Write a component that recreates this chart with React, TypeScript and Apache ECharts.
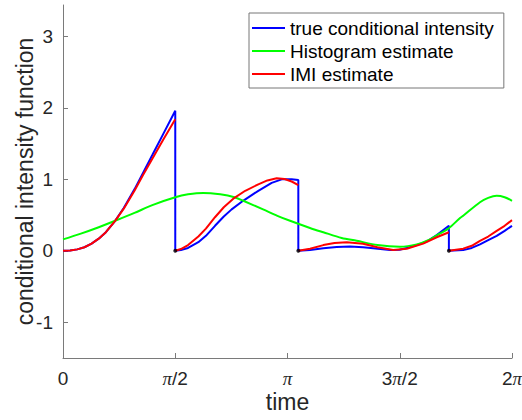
import React, { useEffect, useRef } from "react";
import * as echarts from "echarts";

const PI = Math.PI;

// event times (resets of the true intensity)
const eventTimes = [1.571, 3.293, 5.4];

// true conditional intensity [time, value]; a repeated time marks the drop to zero
const trueIntensity: [number, number][] = [
  [0, 0], [0.1, 0.005], [0.2, 0.02], [0.3, 0.05], [0.4, 0.1], [0.5, 0.17], [0.6, 0.26],
  [0.73, 0.42], [0.85, 0.6], [1.0, 0.86], [1.12, 1.09], [1.25, 1.34], [1.4, 1.63], [1.571, 1.96],
  [1.571, 0], [1.65, 0.01], [1.75, 0.04], [1.894, 0.12], [2.0, 0.21], [2.127, 0.35], [2.25, 0.48],
  [2.36, 0.58], [2.52, 0.7], [2.733, 0.84], [2.92, 0.95], [3.06, 1.0], [3.2, 1.0], [3.293, 0.99],
  [3.293, 0], [3.457, 0.01], [3.643, 0.035], [3.83, 0.055], [4.016, 0.06], [4.2, 0.05], [4.34, 0.035],
  [4.576, 0.01], [4.71, 0.015], [4.81, 0.04], [4.95, 0.08], [5.09, 0.13], [5.23, 0.22], [5.4, 0.35],
  [5.4, 0], [5.6, 0.01], [5.72, 0.04], [5.835, 0.09], [5.95, 0.15], [6.069, 0.21], [6.18, 0.28], [6.283, 0.35],
];

// histogram estimate
const histogramEstimate: [number, number][] = [
  [0, 0.16], [0.25, 0.24], [0.5, 0.33], [0.73, 0.42], [1.0, 0.53], [1.25, 0.64], [1.571, 0.75],
  [1.75, 0.79], [1.963, 0.81], [2.2, 0.79], [2.4, 0.75], [2.523, 0.7], [2.8, 0.58], [3.0, 0.49],
  [3.177, 0.42], [3.456, 0.32], [3.643, 0.26], [3.9, 0.18], [4.11, 0.14], [4.4, 0.08], [4.716, 0.056],
  [4.95, 0.09], [5.136, 0.16], [5.27, 0.24], [5.392, 0.31], [5.556, 0.46], [5.6, 0.49], [5.835, 0.68],
  [5.95, 0.74], [6.069, 0.77], [6.18, 0.75], [6.283, 0.7],
];

// IMI estimate, one list per inter-event segment
const imiSeg1: [number, number][] = [
  [0, 0], [0.1, 0.005], [0.2, 0.02], [0.3, 0.05], [0.4, 0.1], [0.5, 0.17], [0.6, 0.26], [0.73, 0.42],
  [0.85, 0.59], [1.0, 0.84], [1.12, 1.06], [1.25, 1.29], [1.4, 1.55], [1.571, 1.84],
];
const imiSeg2: [number, number][] = [
  [1.571, 0], [1.65, 0.025], [1.75, 0.08], [1.894, 0.2], [2.0, 0.31], [2.127, 0.47], [2.25, 0.61],
  [2.383, 0.73], [2.55, 0.84], [2.733, 0.93], [2.86, 0.985], [2.99, 1.015], [3.1, 1.005], [3.2, 0.97], [3.293, 0.92],
];
const imiSeg3: [number, number][] = [
  [3.293, 0], [3.457, 0.03], [3.643, 0.08], [3.8, 0.11], [3.97, 0.12], [4.2, 0.1], [4.4, 0.05],
  [4.62, 0.01], [4.81, 0.03], [5.04, 0.1], [5.23, 0.19], [5.4, 0.26],
];
const imiSeg4: [number, number][] = [
  [5.4, 0], [5.6, 0.03], [5.72, 0.07], [5.835, 0.14], [5.95, 0.2], [6.069, 0.28], [6.18, 0.35], [6.283, 0.43],
];

const seriesNames = ["true conditional intensity", "Histogram estimate", "IMI estimate"];
const xTickValues = [0, PI / 2, PI, (3 * PI) / 2, 2 * PI];
const xTickLabels = ["0", "π/2", "π", "3π/2", "2π"];
const yTickValues = [-1, 0, 1, 2, 3];

const FONT = "'Liberation Sans', Arial, Helvetica, sans-serif";

export default function App() {
  const ref = useRef<HTMLDivElement>(null);
  useEffect(() => {
    if (!ref.current) return;
    const chart = echarts.init(ref.current, null, { renderer: "svg" });
    const imiData: any[] = [];
    [imiSeg1, imiSeg2, imiSeg3, imiSeg4].forEach((seg, i) => {
      if (i > 0) imiData.push([seg[0][0], null]);
      seg.forEach((p) => imiData.push(p));
    });
    const axisColor = "#7a7a7a";
    const textColor = "#262626";
    chart.setOption({
      animation: false,
      textStyle: { fontFamily: FONT },
      grid: { left: 63, right: 10, top: 5, bottom: 62, containLabel: false, outerBoundsMode: "none" },
      legend: {
        orient: "vertical",
        left: 249,
        top: 13,
        data: seriesNames,
        icon: "rect",
        itemWidth: 33,
        itemHeight: 2,
        itemGap: 3,
        padding: [5, 10, 4, 3],
        borderColor: "#777",
        borderWidth: 1,
        backgroundColor: "#fff",
        textStyle: { fontSize: 19, color: "#000", fontFamily: FONT, lineHeight: 20 },
      },
      xAxis: {
        type: "value",
        min: 0,
        max: 2 * PI,
        name: "time",
        nameLocation: "middle",
        nameGap: 32,
        nameMoveOverlap: false,
        nameTextStyle: { fontSize: 23, color: textColor, fontFamily: FONT },
        axisLine: { show: true, onZero: false, lineStyle: { color: axisColor, width: 1 } },
        axisTick: { show: true, inside: true, length: 5, customValues: xTickValues, lineStyle: { color: axisColor } },
        splitLine: { show: false },
        axisLabel: {
          customValues: xTickValues,
          margin: 11,
          fontSize: 19,
          color: textColor,
          fontFamily: FONT,
          formatter: (v: number) => {
            const i = Math.round(v / (PI / 2));
            return xTickLabels[i].replace("π", "{p|π}");
          },
          rich: { p: { fontStyle: "italic", fontSize: 19, color: textColor, fontFamily: "'Liberation Serif', serif" } },
        },
      },
      yAxis: {
        type: "value",
        min: -1.5,
        max: 3.44,
        name: "conditional intensity function",
        nameLocation: "middle",
        nameGap: 27,
        nameMoveOverlap: false,
        nameRotate: 90,
        nameTextStyle: { fontSize: 23, color: textColor, fontFamily: FONT },
        axisLine: { show: true, onZero: false, lineStyle: { color: axisColor, width: 1 } },
        axisTick: { show: true, inside: true, length: 5, customValues: yTickValues, lineStyle: { color: axisColor } },
        splitLine: { show: false },
        axisLabel: { customValues: yTickValues, margin: 10, fontSize: 19, color: textColor, fontFamily: FONT },
      },
      series: [
        {
          name: seriesNames[0],
          type: "line",
          data: trueIntensity,
          showSymbol: false,
          lineStyle: { color: "#0000ff", width: 2 },
          itemStyle: { color: "#0000ff" },
        },
        {
          name: seriesNames[1],
          type: "line",
          data: histogramEstimate,
          showSymbol: false,
          smooth: 0.3,
          lineStyle: { color: "#00ff00", width: 2 },
          itemStyle: { color: "#00ff00" },
        },
        {
          name: seriesNames[2],
          type: "line",
          data: imiData,
          showSymbol: false,
          connectNulls: false,
          lineStyle: { color: "#ff0000", width: 2 },
          itemStyle: { color: "#ff0000" },
        },
        {
          name: "events",
          type: "scatter",
          data: eventTimes.map((t) => [t, 0]),
          symbolSize: 4,
          itemStyle: { color: "#000" },
          z: 5,
        },
      ],
    });
    return () => chart.dispose();
  }, []);
  return <div ref={ref} style={{ width: 522, height: 420, position: "absolute", left: 0, top: 0 }} />;
}
